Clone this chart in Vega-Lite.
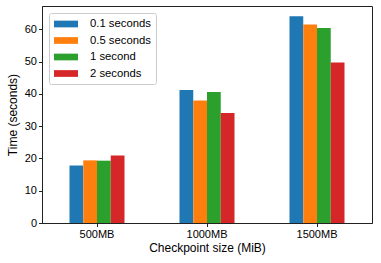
{
  "$schema": "https://vega.github.io/schema/vega-lite/v6.json",
  "autosize": "none",
  "width": 330,
  "height": 217,
  "padding": {"left": 42, "top": 6, "right": 9, "bottom": 40},
  "background": "white",
  "config": {
    "font": "Liberation Sans",
    "view": {"stroke": "#222", "strokeWidth": 1},
    "axis": {"grid": false, "domainColor": "#222", "tickColor": "#222", "labelColor": "#000", "titleColor": "#000", "labelFontSize": 11, "titleFontSize": 12, "titleFontWeight": "normal", "tickSize": 3.5, "labelPadding": 2}
  },
  "data": {
    "values": [
      {"size": "500MB", "interval": "0.1 seconds", "time": 17.8},
      {"size": "500MB", "interval": "0.5 seconds", "time": 19.4},
      {"size": "500MB", "interval": "1 second", "time": 19.3},
      {"size": "500MB", "interval": "2 seconds", "time": 20.9},
      {"size": "1000MB", "interval": "0.1 seconds", "time": 41.2},
      {"size": "1000MB", "interval": "0.5 seconds", "time": 37.9},
      {"size": "1000MB", "interval": "1 second", "time": 40.6},
      {"size": "1000MB", "interval": "2 seconds", "time": 34.1},
      {"size": "1500MB", "interval": "0.1 seconds", "time": 64.0},
      {"size": "1500MB", "interval": "0.5 seconds", "time": 61.5},
      {"size": "1500MB", "interval": "1 second", "time": 60.4},
      {"size": "1500MB", "interval": "2 seconds", "time": 49.7}
    ]
  },
  "mark": {"type": "bar"},
  "encoding": {
    "x": {
      "field": "size", "type": "nominal", "sort": ["500MB", "1000MB", "1500MB"],
      "scale": {"paddingInner": 0.5, "paddingOuter": 0.25},
      "axis": {"title": "Checkpoint size (MiB)", "labelAngle": 0, "titlePadding": 3}
    },
    "xOffset": {"field": "interval", "type": "nominal", "sort": ["0.1 seconds", "0.5 seconds", "1 second", "2 seconds"]},
    "y": {
      "field": "time", "type": "quantitative",
      "scale": {"domain": [0, 67.2], "nice": false},
      "axis": {"title": "Time (seconds)", "values": [0, 10, 20, 30, 40, 50, 60], "titlePadding": 5}
    },
    "color": {
      "field": "interval", "type": "nominal",
      "sort": ["0.1 seconds", "0.5 seconds", "1 second", "2 seconds"],
      "scale": {"range": ["#1f77b4", "#ff7f0e", "#2ca02c", "#d62728"]},
      "legend": {
        "title": null, "orient": "none", "legendX": 7, "legendY": 7,
        "symbolType": "M-1,-0.56L3,-0.56L3,0.56L-1,0.56Z", "symbolSize": 144,
        "symbolStrokeWidth": 0, "symbolOpacity": 1,
        "labelFontSize": 11.3, "labelColor": "#000", "labelOffset": 24,
        "rowPadding": 4.5, "padding": 5, "strokeColor": "#ccc", "cornerRadius": 2, "fillColor": "white"
      }
    }
  }
}
